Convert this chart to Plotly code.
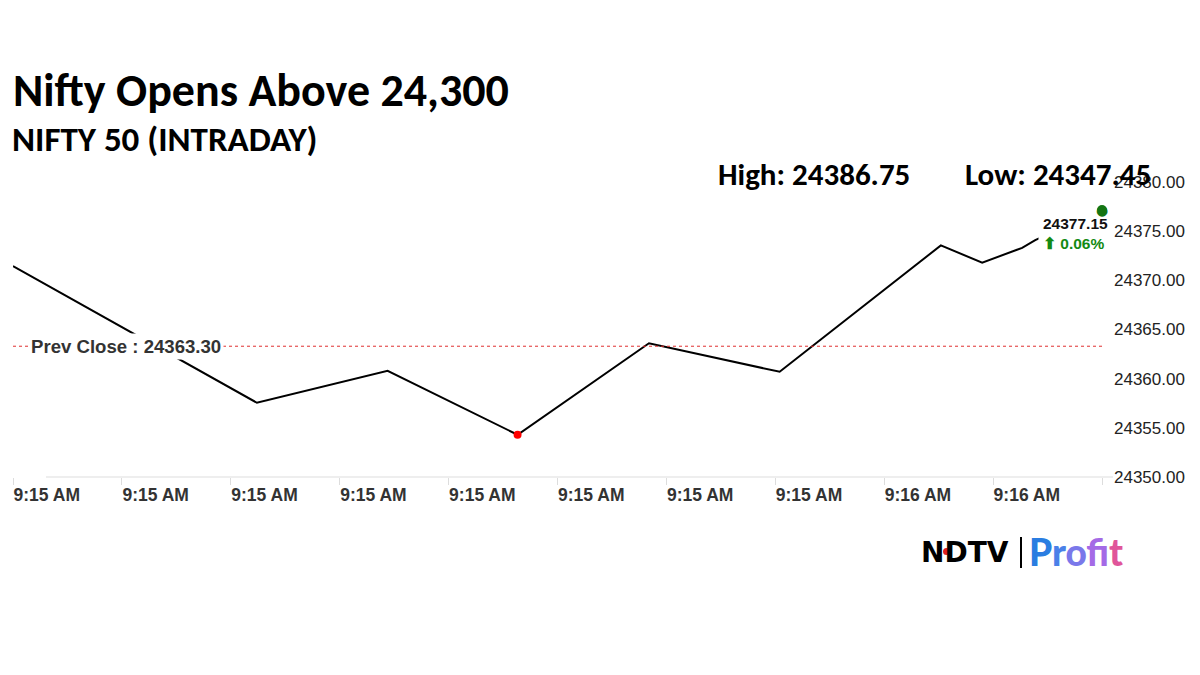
import plotly.graph_objects as go

# ---- data ----
seconds = [0, 16.8, 25.8, 34.75, 43.8, 52.8, 63.9, 66.75, 69.5, 70.4, 75]
prices = [24371.45, 24357.55, 24360.8, 24354.3, 24363.6, 24360.7, 24373.55, 24371.8, 24373.3, 24374.1, 24377.15]
tick_seconds = [0, 7.5, 15, 22.5, 30, 37.5, 45, 52.5, 60, 67.5, 75]
tick_labels = ["9:15 AM", "9:15 AM", "9:15 AM", "9:15 AM", "9:15 AM", "9:15 AM",
               "9:15 AM", "9:15 AM", "9:16 AM", "9:16 AM", ""]
y_ticks = [24350, 24355, 24360, 24365, 24370, 24375, 24380]
prev_close = 24363.30
day_high = 24386.75
day_low = 24347.45
change_pct = 0.06

title = "Nifty Opens Above 24,300"
subtitle = "NIFTY 50 (INTRADAY)"

ARIAL = "Liberation Sans, Arial, sans-serif"
CAL = "Carlito, Lato, sans-serif"

L, R, T, B = 13, 98, 182, 198
pw, ph = 1200 - L - R, 675 - T - B


def px(x):
    return (x - L) / pw


def py(y):
    return (675 - y - B) / ph


fig = go.Figure()

fig.add_trace(go.Scatter(x=seconds, y=prices, mode="lines",
                         line=dict(color="black", width=2), hoverinfo="skip",
                         showlegend=False))

imin = prices.index(min(prices))
fig.add_trace(go.Scatter(x=[seconds[imin]], y=[prices[imin]], mode="markers",
                         marker=dict(color="#ff0000", size=8), showlegend=False))

# prev close line
fig.add_shape(type="line", xref="x", yref="y", x0=seconds[0], x1=tick_seconds[-1],
              y0=prev_close, y1=prev_close, line=dict(color="#e03030", width=1, dash="dot"))
fig.add_annotation(x=px(28), y=prev_close, xref="paper", yref="y", xanchor="left", yanchor="middle",
                   text=f"Prev Close : {prev_close:.2f}", showarrow=False,
                   bgcolor="white", font=dict(family=ARIAL, size=18.6, color="#333333", weight="bold"),
                   borderpad=2)

# last value label
fig.add_annotation(x=px(1038), y=py(233), xref="paper", yref="paper", xanchor="left", yanchor="middle",
                   text=f"{prices[-1]:.2f}<br><span style='color:#138a13'>⬆ {change_pct:.2f}%</span>",
                   showarrow=False, align="left", bgcolor="white", borderpad=4,
                   font=dict(family=ARIAL, size=15.5, color="#111111", weight="bold"))
# green dot for the latest value, drawn on top of the label box
fig.add_annotation(x=seconds[-1], y=prices[-1], xref="x", yref="y", text="●", showarrow=False,
                   xanchor="center", yanchor="middle",
                   font=dict(family="DejaVu Sans, sans-serif", size=14, color="#137513"))
fig.add_trace(go.Scatter(x=[seconds[-1]], y=[prices[-1]], mode="markers",
                         marker=dict(color="#137513", size=10), showlegend=False, cliponaxis=False))

# x axis baseline (starts a little right of the first tick, as in the source)
fig.add_shape(type="line", xref="paper", yref="paper", x0=px(46), x1=px(1113), y0=0, y1=0,
              line=dict(color="#dddddd", width=1))

# titles
fig.add_annotation(x=px(11), y=py(90), xref="paper", yref="paper", text=title,
                   showarrow=False, xanchor="left", yanchor="middle",
                   font=dict(family=CAL, size=46, color="black", weight="bold"))
fig.add_annotation(x=px(10), y=py(139), xref="paper", yref="paper", text=subtitle,
                   showarrow=False, xanchor="left", yanchor="middle",
                   font=dict(family=CAL, size=35, color="black", weight="bold"))
fig.add_annotation(x=px(716), y=py(174), xref="paper", yref="paper", text=f"High: {day_high:.2f}",
                   showarrow=False, xanchor="left", yanchor="middle",
                   font=dict(family=CAL, size=31, color="black", weight="bold"))
fig.add_annotation(x=px(963), y=py(174), xref="paper", yref="paper", text=f"Low: {day_low:.2f}",
                   showarrow=False, xanchor="left", yanchor="middle",
                   font=dict(family=CAL, size=31, color="black", weight="bold"))

# logo
fig.add_annotation(x=px(919), y=py(552), xref="paper", yref="paper",
                   text="NDTV", showarrow=False, xanchor="left", yanchor="middle",
                   font=dict(family="DejaVu Sans, sans-serif", size=28, color="black", weight="bold"))
fig.add_shape(type="circle", xref="paper", yref="paper", x0=px(943), x1=px(950), y0=py(548), y1=py(555),
              fillcolor="#e0201c", line=dict(width=0))
fig.add_shape(type="line", xref="paper", yref="paper", x0=px(1021), x1=px(1021), y0=py(537), y1=py(568),
              line=dict(color="black", width=2))
profit_cols = ["#2a7de1", "#4a80e8", "#7a78ea", "#a46ae6", "#c85fd8", "#e0559a"]
profit_txt = "".join(f"<span style='color:{c}'>{ch}</span>" for ch, c in zip("Profit", profit_cols))
fig.add_annotation(x=px(1027), y=py(551), xref="paper", yref="paper",
                   text=profit_txt, showarrow=False, xanchor="left", yanchor="middle",
                   font=dict(family="Lato, sans-serif", size=37, color="#2a7de1", weight=900))

fig.update_layout(
    width=1200, height=675,
    margin=dict(l=L, r=R, t=T, b=B, pad=0),
    paper_bgcolor="white", plot_bgcolor="white",
    showlegend=False,
    xaxis=dict(range=[tick_seconds[0], tick_seconds[-1]], tickvals=tick_seconds, ticktext=tick_labels,
               showgrid=False, zeroline=False, showline=False,
               ticks="outside", ticklen=7, tickcolor="#dddddd", ticklabelstandoff=2,
               ticklabelposition="outside right",
               tickfont=dict(family=ARIAL, size=17.5, color="#333333", weight="bold")),
    yaxis=dict(range=[y_ticks[0], y_ticks[-1]], tickvals=y_ticks, tickformat=".2f", side="right",
               showgrid=False, zeroline=False, showline=False, ticks="", ticklabelstandoff=11,
               tickfont=dict(family=ARIAL, size=17, color="#222222")),
)

fig.write_html("out.html", post_script="document.body.style.margin='0';",
               config={"displayModeBar": False})
